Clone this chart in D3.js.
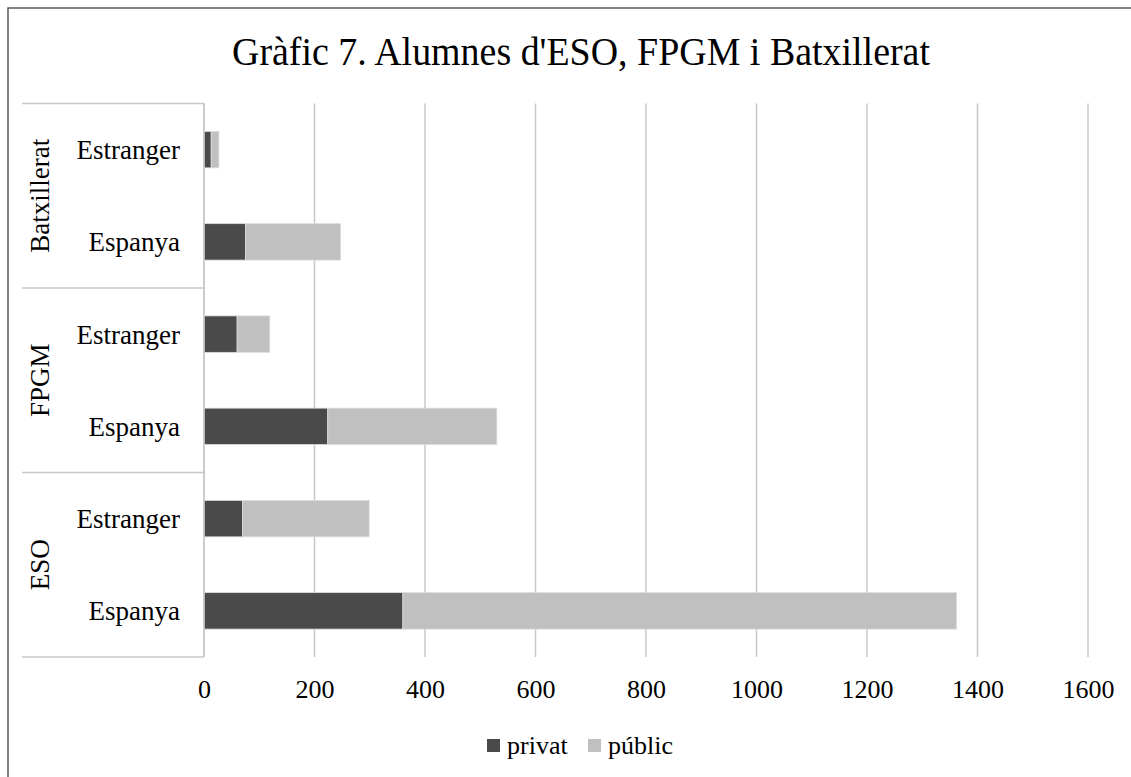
<!DOCTYPE html>
<html>
<head>
<meta charset="utf-8">
<script src="https://cdn.jsdelivr.net/npm/d3@7"></script>
<style>
  html, body { margin: 0; padding: 0; background: #fff; }
  svg { display: block; }
  text { font-family: "Liberation Serif", "Times New Roman", serif; fill: #000; }
</style>
</head>
<body>
<svg id="chart" width="1131" height="777"></svg>
<script>
// ---- data ----
const title = "Gràfic 7. Alumnes d'ESO, FPGM i Batxillerat";
const groups = ["Batxillerat", "FPGM", "ESO"];
const origins = ["Estranger", "Espanya"];
const privat = [13, 75, 60, 224, 70, 360];
const public_ = [14, 172, 59, 306, 229, 1002];
const seriesNames = ["privat", "públic"];
const tickValues = [0, 200, 400, 600, 800, 1000, 1200, 1400, 1600];

// ---- build rows ----
const rows = [];
groups.forEach((g, gi) => origins.forEach((o, oi) => {
  const i = gi * origins.length + oi;
  rows.push({ id: g + "|" + o, group: g, origin: o, privat: privat[i], public: public_[i] });
}));

const svg = d3.select("#chart");
const colors = { privat: "#4a4a4a", public: "#c0c0c0" };

// outer border
svg.append("rect").attr("x", 8).attr("y", 8).attr("width", 1200).attr("height", 900)
  .attr("fill", "none").attr("stroke", "#5a5a5a").attr("stroke-width", 1.5);

// title
svg.append("text").attr("x", 581).attr("y", 65).attr("text-anchor", "middle")
  .attr("font-size", 41).attr("textLength", 698).attr("lengthAdjust", "spacingAndGlyphs")
  .text(title);

const plotTop = 103.5, plotBottom = 657;
const x = d3.scaleLinear().domain([0, 1600]).range([204, 1088]);
const y = d3.scaleBand().domain(rows.map(r => r.id)).range([plotTop, plotBottom])
  .paddingInner(0.605).paddingOuter(0.3025);

// gridlines
svg.append("g").selectAll("line").data(tickValues).join("line")
  .attr("x1", d => x(d)).attr("x2", d => x(d))
  .attr("y1", plotTop).attr("y2", plotBottom)
  .attr("stroke", "#c8c8c8").attr("stroke-width", 1.5);

// tick labels via axis
const xAxis = d3.axisBottom(x).tickValues(tickValues).tickSize(0).tickPadding(0).tickFormat(d3.format("d"));
const ax = svg.append("g").attr("transform", `translate(0,${plotBottom + 41})`).call(xAxis);
ax.select(".domain").remove();
ax.selectAll("text").attr("font-size", 26).attr("dy", 0).attr("font-family", "Liberation Serif").attr("fill", "#000");

// bars
const stack = d3.stack().keys(["privat", "public"]);
const stacked = stack(rows);
svg.append("g").selectAll("g").data(stacked).join("g")
  .attr("fill", d => colors[d.key])
  .selectAll("rect").data(d => d).join("rect")
  .attr("x", d => x(d[0])).attr("width", d => x(d[1]) - x(d[0]))
  .attr("y", d => y(d.data.id)).attr("height", y.bandwidth())
  .attr("stroke", "#dcdcdc").attr("stroke-width", 0.8);

// category axis line (value 0)
svg.append("line").attr("x1", x(0)).attr("x2", x(0)).attr("y1", plotTop).attr("y2", plotBottom)
  .attr("stroke", "#c8c8c8").attr("stroke-width", 1.5);

// group separators
const step = y.step();
const groupBounds = groups.map((g, gi) => {
  const first = rows.find(r => r.group === g);
  const top = y(first.id) - y.paddingOuter() * step;
  return { g, top, bottom: top + step * origins.length };
});
const sepYs = [plotTop].concat(groupBounds.map(b => b.bottom));
svg.append("g").selectAll("line").data(sepYs).join("line")
  .attr("x1", 22).attr("x2", x(0)).attr("y1", d => d).attr("y2", d => d)
  .attr("stroke", "#c8c8c8").attr("stroke-width", 1.5);

// origin labels
svg.append("g").selectAll("text").data(rows).join("text")
  .attr("x", 180).attr("y", d => y(d.id) + y.bandwidth() / 2)
  .attr("dy", "0.35em").attr("text-anchor", "end").attr("font-size", 27)
  .text(d => d.origin);

// group labels (rotated)
svg.append("g").selectAll("text").data(groupBounds).join("text")
  .attr("transform", d => `translate(49,${(d.top + d.bottom) / 2}) rotate(-90)`)
  .attr("text-anchor", "middle").attr("font-size", 27)
  .text(d => d.g);

// legend
const legendItems = [{ name: seriesNames[0], color: colors.privat, x: 487 },
                     { name: seriesNames[1], color: colors.public, x: 588 }];
const lg = svg.append("g").selectAll("g").data(legendItems).join("g")
  .attr("transform", d => `translate(${d.x},739)`);
lg.append("rect").attr("width", 13).attr("height", 13).attr("fill", d => d.color);
lg.append("text").attr("x", 20).attr("y", 15).attr("font-size", 26).text(d => d.name);
</script>
</body>
</html>
